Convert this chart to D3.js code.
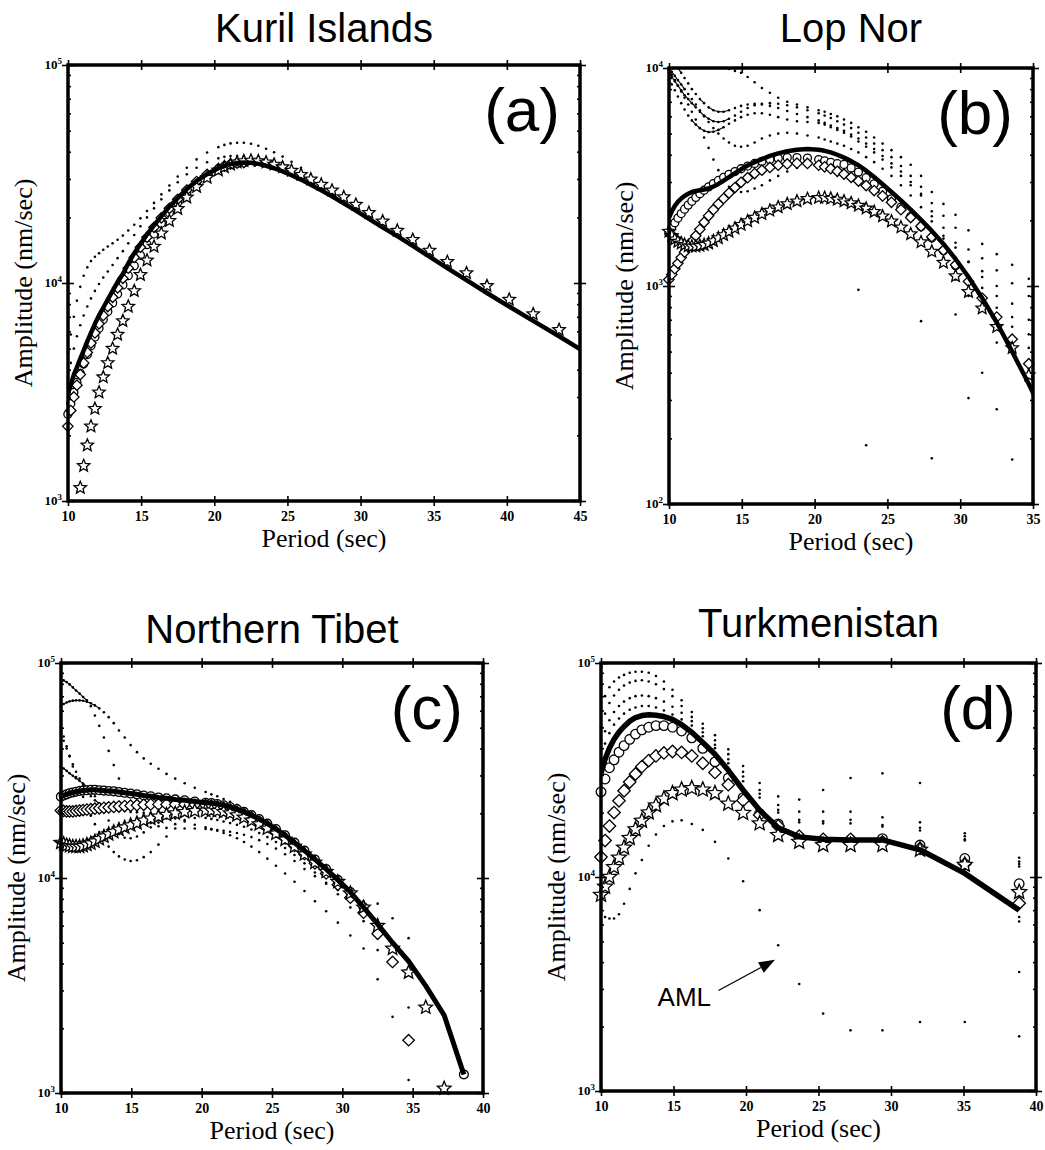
<!DOCTYPE html>
<html><head><meta charset="utf-8">
<script src="https://cdn.jsdelivr.net/npm/d3@7"></script>
<style>html,body{margin:0;padding:0;background:#fff}</style>
</head><body>
<svg id="chart" width="1045" height="1150"></svg>
<script>
// ---------------- DATA ----------------
// Sample periods (sec) used by panels a, b, c
const periodsABC = [9.99, 10.19, 10.40, 10.61, 10.84, 11.07, 11.32, 11.57, 11.84, 12.12,
  12.41, 12.72, 13.05, 13.39, 13.75, 14.12, 14.53, 14.95, 15.40, 15.88,
  16.38, 16.93, 17.50, 18.12, 18.79, 19.51, 20.28, 20.69, 21.11, 21.56,
  22.02, 22.51, 23.01, 23.54, 24.09, 24.67, 25.28, 25.93, 26.60, 27.31,
  28.05, 28.85, 29.68, 30.57, 31.51, 32.51, 33.57, 34.71, 35.93, 37.24,
  38.64, 40.16, 41.80, 43.57, 45.61];
// Sample periods (sec) used by panel d
const periodsD = [10.00, 10.28, 10.58, 10.90, 11.24, 11.59, 11.98, 12.38, 12.82, 13.29,
  13.79, 14.34, 14.93, 15.56, 16.26, 17.02, 17.86, 18.78, 19.80, 20.94,
  22.22, 23.67, 25.32, 27.21, 29.41, 32.00, 35.09, 38.84];

const xTicksA = [10, 15, 20, 25, 30, 35, 40, 45];
const xTicksB = [10, 15, 20, 25, 30, 35];
const xTicksC = [10, 15, 20, 25, 30, 35, 40];
const xTicksD = [10, 15, 20, 25, 30, 35, 40];
const decadesA = [1e3, 1e4, 1e5];
const decadesB = [1e2, 1e3, 1e4];
const decadesC = [1e3, 1e4, 1e5];
const decadesD = [1e3, 1e4, 1e5];

// ---- (a) Kuril Islands, amplitude nm/sec ----
const aLine = [3100, 3400, 3800, 4100, 4500, 4900, 5400, 5900, 6500, 7100,
  7700, 8400, 9200, 10100, 11000, 12300, 13700, 15100, 16700, 18400,
  20200, 22400, 24500, 27000, 29400, 31600, 33600, 34400, 35100, 35500,
  35700, 35600, 35200, 34500, 33600, 32500, 31200, 29800, 28200, 26600,
  25000, 23200, 21500, 19700, 18000, 16400, 14800, 13200, 11700, 10300,
  9000, 7800, 6700, 5700, 4700];
const aStars = [500, 600, 750, 900, 1150, 1450, 1800, 2200, 2650, 3150,
  3700, 4300, 5000, 5800, 6700, 7800, 9200, 10900, 12700, 14700,
  16900, 19300, 21900, 24700, 27600, 30400, 32900, 34000, 35000, 35800,
  36300, 36500, 36300, 35800, 35000, 34000, 32800, 31400, 29900, 28300,
  26600, 24800, 22900, 21000, 19200, 17400, 15800, 14100, 12500, 11100,
  9700, 8400, 7200, 6100];
const aDiamonds = [2200, 2600, 3000, 3400, 3800, 4300, 4800, 5300, 5900, 6500,
  7100, 7800, 8600, 9500, 10500, 11700, 13100, 14600, 16200, 18000,
  19900, 22000, 24200, 26700, 29200, 31500, 33500, 34400, 35100, 35500, 35700];
const aCircles = [2500, 2800, 3150, 3500, 3850, 4250, 4700, 5150, 5650, 6200,
  6800, 7400, 8100, 8900, 9800, 10800, 12000, 13400, 15000, 16800,
  18800, 21000, 23400, 26000, 28700, 31200, 33300, 34300, 35000, 35500, 35700];
const aDot1 = [4800, 5800, 7000, 8300, 9600, 10800, 11800, 12600, 13200, 13700,
  14200, 14700, 15200, 15800, 16500, 17400, 18500, 19800, 21400, 23300,
  25500, 28000, 30800, 33800, 36900, 39700, 42000, 43000, 43700, 44000,
  44000, 43500, 42600, 41300, 39800, 38000, 36000, 33800, 31300, 28800,
  26400, 24200];
const aDot2 = [3700, 4300, 5000, 5700, 6400, 7100, 7800, 8500, 9200, 9900,
  10600, 11300, 12100, 13000, 14000, 15200, 16600, 18200, 20000, 22000,
  24200, 26600, 29000, 31500, 33800, 35800, 37300, 37900, 38200, 38200,
  38000, 37600, 37000, 36200, 35200, 34000, 32600, 31000, 29300, 27500];

// ---- (b) Lop Nor ----
const bLine = [2050, 2200, 2330, 2430, 2520, 2590, 2650, 2700, 2730, 2750,
  2770, 2800, 2860, 2940, 3040, 3160, 3290, 3430, 3570, 3700,
  3820, 3950, 4060, 4150, 4220, 4250, 4220, 4170, 4100, 4000,
  3880, 3740, 3580, 3380, 3160, 2930, 2700, 2470, 2240, 2010,
  1790, 1560, 1330, 1100, 880, 680, 500, 355, 240];
const bCircles = [1750, 1850, 1950, 2050, 2150, 2250, 2350, 2450, 2550, 2650,
  2750, 2850, 2950, 3050, 3150, 3250, 3350, 3450, 3550, 3650,
  3730, 3800, 3850, 3880, 3880, 3860, 3800, 3750, 3690, 3640,
  3610, 3480, 3330, 3140, 2940, 2720, 2510, 2300, 2080, 1870,
  1660, 1450, 1240];
const bDiamonds = [1070, 1130, 1200, 1270, 1350, 1430, 1510, 1600, 1700, 1820,
  1960, 2100, 2240, 2380, 2520, 2670, 2830, 2990, 3140, 3280,
  3400, 3500, 3580, 3630, 3660, 3650, 3580, 3520, 3450, 3360,
  3260, 3150, 3030, 2890, 2740, 2590, 2420, 2240, 2060, 1880,
  1680, 1460, 1250, 1050, 880, 720, 570, 440];
const bStars = [1780, 1700, 1640, 1600, 1570, 1545, 1525, 1520, 1520, 1530,
  1545, 1570, 1610, 1660, 1715, 1775, 1840, 1910, 1985, 2060,
  2140, 2220, 2300, 2380, 2450, 2510, 2540, 2540, 2520, 2490,
  2450, 2400, 2340, 2270, 2190, 2090, 1980, 1860, 1730, 1590,
  1440, 1280, 1110, 940, 790, 650, 520, 390];
const bDot1 = [null, null, null, null, null, null, null, null, null, 11000,
  10800, 10500, 10300, 10100, 10000, 9900, 9700, 9500, 9100, 8600,
  8100, 7700, 7300, 7000, 6800, 6600, 6400, 6300, 6150, 6000,
  5800, 5600, 5350, 5100, 4800, 4500, 4200, 3900, 3600, 3200,
  2700, 2380, 2120, 1800, 1560, 1400, 1250, 1080];
const bDot2 = [9500, 9100, 8700, 8300, 7900, 7500, 7200, 6900, 6600, 6300,
  6050, 5850, 5700, 5650, 5700, 5850, 6050, 6300, 6550, 6750,
  6850, 6900, 6850, 6750, 6600, 6400, 6200, 6050, 5900, 5700,
  5500, 5300, 5050, 4800, 4500, 4200, 3900, 3550, 3200, 2850,
  2400, 2100, 1850, 1470, 1340, 1180, 1030, 900];
const bDot3 = [8800, 8400, 7900, 7400, 6900, 6450, 6050, 5750, 5500, 5300,
  5150, 5080, 5100, 5200, 5350, 5550, 5750, 5950, 6100, 6200,
  6200, 6100, 5950, 5800, 5700, 5650, 5600, 5500, 5350, 5200,
  5050, 4850, 4600, 4350, 4100, 3800, 3500, 3200, 2900, 2600,
  2200, 1850, 1580, 1290, 1170, 1000, 830, 700];
const bDot4 = [10000, 9600, 9200, 8800, 8400, 8000, 7600, 7200, 6800, 6400,
  6000, 5650, 5300, 5000, 4750, 4550, 4400, 4350, 4400, 4550,
  4750, 4900, 5000, 5050, 5000, 4900, 4800, 4700, 4600, 4500,
  4400, 4250, 4100, 3900, 3700, 3450, 3200, 2900, 2600, 2300,
  1980, 1650, 1280, 1100, 980, 795, 650, 520];
const bDot5 = [9800, 9300, 8800, 8300, 7800, 7300, 6800, 6300, 5800, 5300,
  4800, 4300, 3800, 3400, 3050, 2850, 2750, 2700, 2720, 2800,
  2900, 3050, 3200, 3350, 3480, 3550, 3580, 3570, 3540, 3480,
  3400, 3300, 3180, 3040, 2900, 2740, 2570, 2380, 2180, 1950,
  1650, 1350, 1070, 900, 830, 550, 550, 420];
const bDot6 = [null, null, null, 10000, 9500, 9000, 8500, 8000, 7600, 7200,
  6900, 6600, 6400, 6300, 6300, 6400, 6550, 6700, 6800, 6850,
  6800, 6700, 6550, 6350, 6150, 5950, 5750, 5600, 5450, 5300,
  5150, 4950, 4750, 4500, 4250, 3950, 3650, 3350, 3000, 2650,
  2090, 1700, 1500, 1290, 1100, 900, 720, 600];
const bScatterPeriods = [23.01, 23.54, 27.31, 28.05, 29.68, 30.57, 31.51, 32.51, 33.57];
const bScatterAmps = [960, 186, 690, 162, 740, 306, 400, 272, 160];

// ---- (c) Northern Tibet ----
const cLine = [23900, 24200, 24500, 24800, 25000, 25200, 25400, 25500, 25600, 25700,
  25700, 25600, 25500, 25400, 25300, 25100, 24900, 24700, 24500, 24200,
  24000, 23700, 23500, 23200, 23000, 22700, 22400, 22300, 22100, 21800,
  21400, 20900, 20300, 19600, 18800, 17900, 16900, 15800, 14600, 13400,
  12200, 11000, 9800, 8600, 7300, 6100, 5000, 4100, 3150, 2300, 1220];
const cCircles = [23900, 24200, 24500, 24800, 25000, 25200, 25400, 25500, 25600, 25700,
  25700, 25600, 25500, 25400, 25300, 25100, 24900, 24700, 24500, 24200,
  24000, 23700, 23500, 23200, 23000, 22700, 22400, 22300, 22100, 21800,
  21400, 20900, 20300, 19600, 18800, 17900, 16900, 15800, 14600, 13400,
  12200, 11000, 9800, 8600, 7300, null, null, null, null, null, 1220];
const cDiamonds = [20600, 20500, 20400, 20400, 20400, 20500, 20600, 20700, 20800, 20900,
  21000, 21100, 21200, 21300, 21400, 21500, 21600, 21700, 21800, 21900,
  22000, 22000, 22000, 22000, 22000, 21900, 21800, 21700, 21500, 21200,
  20800, 20300, 19800, 19100, 18300, 17400, 16400, 15300, 14100, 12900,
  11700, 10500, 9300, 8100, 6900, 5500, 4070, 1760];
const cStars = [14600, 14400, 14200, 14100, 14000, 14000, 14000, 14100, 14300, 14500,
  14800, 15200, 15600, 16000, 16400, 16800, 17200, 17600, 18000, 18500,
  18900, 19300, 19700, 20000, 20300, 20500, 20600, 20600, 20500, 20300,
  20000, 19600, 19100, 18500, 17800, 17000, 16100, 15100, 14000, 12900,
  11800, 10700, 9600, 8500, 7300, 6000, 4700, 3640, 2500, 1050];
const cDot1 = [83800, 83000, 81500, 79500, 77000, 74500, 72000, 69500, 67000, 63000,
  57000, 51000, 45000, 39000, 33500, 29000, 25500, 22500, 20500, 19000,
  18000, 17400, 17100, 17000, 17000, 17000, 16900, 16800, 16700, 16600,
  16400, 16200, 15900, 15500, 15000, 14400, 13700, 12900, 12000, 11000,
  10200, 9400, 8800, 8200, 7800, 7600, 6500, 5250];
const cDot2 = [63000, 64500, 65500, 66300, 66800, 67000, 67000, 66700, 66000, 65000,
  63500, 61500, 59000, 56000, 52500, 48500, 45000, 41500, 38500, 36000,
  34000, 32200, 30500, 29000, 27600, 26300, 25100, 24500, 24000, 23300,
  22600, 21900, 21100];
const cDot3 = [50000, 45500, 41000, 37000, 33000, 29500, 26500, 23800, 21500, 19500,
  17800, 16300, 15000, 14000, 13200, 12600, 12200, 12000, 12100, 12500,
  13200, 14300, 15600, 17800, 18600, 19000, 19000, 18800, 18600, 18300,
  18000, 17700, 17300, 16800, 16200, 15500, 14700, 13800, 12800, 11700,
  10600, 9500, 8400, 7300, 6300, 4620, 4620, 2500];
const cDot4 = [33000, 32300, 31500, 30700, 29900, 29100, 28300, 27500, 26600, 25500,
  24000, 22200, 20300, 18500, 17000, 16000, 15400, 15300, 15600, 16300,
  17200, 18100, 18900, 19500, 19900, 20100, 20100, 20000, 19900, 19700, 19400];
const cDot5 = [47000, 43500, 40000, 36800, 33800, 31200, 29000, 27000, 25300, 24000,
  23000, 22200, 21600, 21200, 20900, 20700, 20500, 20300, 20200, 20100,
  20000, 19800, 19400, 18900, 18300, 17700, 17200, 16900, 16600, 16200,
  15800, 15300, 14700, 14000, 13200, 12300, 11400, 10500, 9600, 8700,
  7800, 7000, 6200, 5400, 4700, 3380, 2260, 1150];

// ---- (d) Turkmenistan ----
const dLine = [30500, 35500, 40000, 44000, 47500, 50500, 53500, 55500, 56800, 57300,
  57000, 56200, 54500, 51500, 47500, 42500, 37500, 31500, 25500, 20500,
  17000, 15400, 15000, 14900, 14900, 13400, 10400, 7000];
const dCircles = [25000, 28700, 32400, 35300, 38300, 41100, 44000, 46500, 48700, 50100,
  51000, 51000, 50100, 48100, 44700, 39900, 34500, 29000, 23500, 19800,
  17700, 15300, 14700, 14900, 15100, 14100, 12200, 9300];
const dDiamonds = [12400, 14800, 17300, 20000, 22700, 25300, 27800, 30300, 32800, 35000,
  36800, 38000, 38600, 38200, 36800, 34000, 30800, 27000, 22800, 19500,
  17300, 15500, 15000, 15000, 14600, 13600, 11500, 7540];
const dStars = [8250, 9000, 10000, 11100, 12300, 13700, 15200, 16700, 18300, 20000,
  21600, 23200, 24600, 25600, 26000, 25600, 24600, 22000, 19900, 17800,
  15700, 14600, 14100, 14100, 14100, 13400, 11400, 8500];
const dDot1 = [62000, 70000, 77000, 82000, 85500, 88000, 90000, 91000, 91000, 90000,
  87000, 82000, 75000, 67000, 59000, 52000, 46000, 39500, 33000, 27500,
  23800, 23000, 25500, 29000, 30500, 27500, 16000, 12300];
const dDot2 = [50000, 58000, 65000, 70500, 75000, 78500, 81000, 82500, 83000, 82000,
  79500, 75500, 70000, 63000, 56000, 49500, 43500, 37500, 31000, 25500,
  21700, 20200, 20200, 20200, 19000, 18000, 15500, 11800];
const dDot3 = [42000, 48000, 54000, 59000, 63000, 66000, 68500, 70000, 70500, 70000,
  68500, 66000, 62500, 58500, 53500, 47500, 41500, 35500, 29500, 24500,
  20600, 18500, 18200, 18500, 17500, 17000, 15000, 11500];
const dDot4 = [36000, 42000, 47000, 51500, 55000, 58000, 60500, 62000, 63000, 63000,
  62000, 60000, 57500, 54500, 51000, 45500, 40000, 34000, 28000, 23500,
  20000, 18000, 17800, 17800, 17200, 16500, 14800, 11200];
const dDot5 = [6700, 6500, 6400, 6400, 6700, 7500, 8800, 10400, 12000, 14000,
  15800, 17300, 18200, 18400, 17700, 16600, 14600, 12200, 9550, 7000,
  4800, 3160, 2300, 1920, 1920, 2100, 2100, 1800];
const dScatterPeriods = [38.84, 38.84, 38.84];
const dScatterAmps = [6500, 6200, 3600];
// AML annotation (period, amplitude)
const amlLabel = ["AML", 13.9, 2500];
const amlArrowFrom = [18.1, 2950];
const amlArrowTo = [22.0, 4100];

// ---------------- DRAWING ----------------
const SANS = "'Liberation Sans', Arial, Helvetica, sans-serif";
const SERIF = "'Liberation Serif', 'Times New Roman', Times, serif";
const svg = d3.select('#chart');
svg.append('rect').attr('width', 1045).attr('height', 1150).attr('fill', '#fff');

const panels = [
  { id: 'a', title: 'Kuril Islands', titleY: 42, tag: '(a)', xLabelDy: 46,
    box: { x0: 68, x1: 580, y0: 65, y1: 501 }, xDomain: [10, 45], yDomain: [1e3, 1e5],
    xTicks: xTicksA, decades: decadesA, periods: periodsABC, connect: 0,
    line: aLine, lineWidth: 4.5, ms: 1.0,
    dots: [aDot1, aDot2], circles: [aCircles], diamonds: [aDiamonds], stars: [aStars] },
  { id: 'b', title: 'Lop Nor', titleY: 42, tag: '(b)', xLabelDy: 46,
    box: { x0: 669, x1: 1033, y0: 68, y1: 504 }, xDomain: [10, 35], yDomain: [1e2, 1e4],
    xTicks: xTicksB, decades: decadesB, periods: periodsABC, connect: 6,
    line: bLine, lineWidth: 4.5, ms: 1.0,
    dots: [bDot1, bDot2, bDot3, bDot4, bDot5, bDot6], scatter: [bScatterPeriods, bScatterAmps],
    circles: [bCircles], diamonds: [bDiamonds], stars: [bStars] },
  { id: 'c', title: 'Northern Tibet', titleY: 643, tag: '(c)', xLabelDy: 46,
    box: { x0: 61, x1: 483, y0: 663, y1: 1093 }, xDomain: [10, 40], yDomain: [1e3, 1e5],
    xTicks: xTicksC, decades: decadesC, periods: periodsABC, connect: 5.5,
    line: cLine, lineWidth: 5, ms: 1.1,
    dots: [cDot1, cDot2, cDot3, cDot4, cDot5],
    circles: [cCircles], diamonds: [cDiamonds], stars: [cStars] },
  { id: 'd', title: 'Turkmenistan', titleY: 637, tag: '(d)', xLabelDy: 46,
    box: { x0: 601, x1: 1036, y0: 663, y1: 1091 }, xDomain: [10, 40], yDomain: [1e3, 1e5],
    xTicks: xTicksD, decades: decadesD, periods: periodsD, connect: 0,
    line: dLine, lineWidth: 5.5, ms: 1.2,
    dots: [dDot1, dDot2, dDot3, dDot4, dDot5], scatter: [dScatterPeriods, dScatterAmps],
    circles: [dCircles], diamonds: [dDiamonds], stars: [dStars], aml: true }
];

function starPath(R) {
  let s = '';
  for (let i = 0; i < 10; i++) {
    const r = i % 2 ? R * 0.45 : R;
    const a = -Math.PI / 2 + i * Math.PI / 5;
    s += (i ? 'L' : 'M') + (r * Math.cos(a)).toFixed(2) + ',' + (r * Math.sin(a)).toFixed(2);
  }
  return s + 'Z';
}
function diamondPath(h) { return `M0,${-h}L${h},0L0,${h}L${-h},0Z`; }
function circlePath(r) { return `M${r},0A${r},${r} 0 1,1 ${-r},0A${r},${r} 0 1,1 ${r},0Z`; }

function drawPanel(c) {
  const { x0, x1, y0, y1 } = c.box;
  const x = d3.scaleLinear().domain(c.xDomain).range([x0, x1]);
  const y = d3.scaleLog().domain(c.yDomain).range([y1, y0]);
  const g = svg.append('g');
  const clipId = 'clip-' + c.id;
  svg.append('defs').append('clipPath').attr('id', clipId)
    .append('rect').attr('x', x0).attr('y', y0).attr('width', x1 - x0).attr('height', y1 - y0);
  const P = c.periods;
  const toPts = arr => arr.map((v, i) => ({ p: P[i], v })).filter(d => d.v != null);
  const visible = d => d.p >= c.xDomain[0] - 0.05 && d.p <= c.xDomain[1] + 0.01 &&
    d.v >= c.yDomain[0] && d.v <= c.yDomain[1];
  const plot = g.append('g');

  // dotted series
  c.dots.forEach(arr => {
    const pts = arr.map((v, i) => ({ p: P[i], v }));
    if (c.connect > 0) {
      const segs = [];
      for (let i = 1; i < pts.length; i++) {
        const a = pts[i - 1], b = pts[i];
        if (a.v == null || b.v == null) continue;
        const dx = x(b.p) - x(a.p), dy = y(b.v) - y(a.v);
        if (Math.hypot(dx, dy) <= c.connect) segs.push([a, b]);
      }
      plot.append('g').attr('clip-path', `url(#${clipId})`)
        .selectAll('line').data(segs).join('line')
        .attr('x1', s => x(s[0].p)).attr('y1', s => y(s[0].v))
        .attr('x2', s => x(s[1].p)).attr('y2', s => y(s[1].v))
        .attr('stroke', '#000').attr('stroke-width', 1.1);
    }
    plot.append('g').selectAll('circle')
      .data(pts.filter(d => d.v != null && visible(d))).join('circle')
      .attr('cx', d => x(d.p)).attr('cy', d => y(d.v)).attr('r', 1.3).attr('fill', '#000');
  });
  if (c.scatter) {
    const pts = c.scatter[0].map((p, i) => ({ p, v: c.scatter[1][i] })).filter(visible);
    plot.append('g').selectAll('circle').data(pts).join('circle')
      .attr('cx', d => x(d.p)).attr('cy', d => y(d.v)).attr('r', 1.3).attr('fill', '#000');
  }

  const drawMarkers = (arr, path) => {
    plot.append('g').selectAll('path').data(toPts(arr).filter(visible)).join('path')
      .attr('d', path).attr('transform', d => `translate(${x(d.p)},${y(d.v)})`)
      .attr('fill', '#fff').attr('stroke', '#000').attr('stroke-width', 1.3);
  };
  c.circles.forEach(a => drawMarkers(a, circlePath(4 * c.ms)));
  c.diamonds.forEach(a => drawMarkers(a, diamondPath(5.2 * c.ms)));
  c.stars.forEach(a => drawMarkers(a, starPath(6.5 * c.ms)));

  // thick line
  plot.append('path').datum(toPts(c.line)).attr('clip-path', `url(#${clipId})`)
    .attr('d', d3.line().x(d => x(d.p)).y(d => y(d.v)))
    .attr('fill', 'none').attr('stroke', '#000').attr('stroke-width', c.lineWidth)
    .attr('stroke-linejoin', 'round');

  // axes
  const styleAxis = sel => {
    sel.select('.domain').remove();
    sel.selectAll('line').attr('stroke', '#000').attr('stroke-width', 1.6);
    sel.attr('font-family', SERIF).attr('font-size', 14).attr('font-weight', 'bold');
    sel.selectAll('text').attr('fill', '#000');
  };
  g.append('g').attr('transform', `translate(0,${y1})`)
    .call(d3.axisBottom(x).tickValues(c.xTicks).tickSize(5).tickPadding(5).tickFormat(d3.format('d')))
    .call(styleAxis);
  g.append('g').attr('transform', `translate(0,${y1})`)
    .call(d3.axisBottom(x).tickValues(c.xTicks).tickSize(-5).tickFormat('')).call(styleAxis);
  g.append('g').attr('transform', `translate(0,${y0})`)
    .call(d3.axisTop(x).tickValues(c.xTicks).tickSize(5).tickFormat('')).call(styleAxis);
  g.append('g').attr('transform', `translate(0,${y0})`)
    .call(d3.axisTop(x).tickValues(c.xTicks).tickSize(-5).tickFormat('')).call(styleAxis);

  const minors = [];
  c.decades.slice(0, -1).forEach(d => { for (let m = 2; m <= 9; m++) minors.push(d * m); });
  [[d3.axisLeft, x0], [d3.axisRight, x1]].forEach(([ax, pos]) => {
    g.append('g').attr('transform', `translate(${pos},0)`)
      .call(ax(y).tickValues(c.decades).tickSize(6).tickFormat('')).call(styleAxis);
    g.append('g').attr('transform', `translate(${pos},0)`)
      .call(ax(y).tickValues(c.decades).tickSize(-6).tickFormat('')).call(styleAxis);
    g.append('g').attr('transform', `translate(${pos},0)`)
      .call(ax(y).tickValues(minors).tickSize(-3).tickFormat('')).call(styleAxis);
  });
  c.decades.forEach(v => {
    const t = g.append('text').attr('x', x0 - 6).attr('y', y(v) + 4)
      .attr('text-anchor', 'end').attr('font-family', SERIF).attr('font-size', 13)
      .attr('font-weight', 'bold');
    t.append('tspan').text('10');
    t.append('tspan').attr('dy', -5).attr('font-size', 9).text(String(Math.round(Math.log10(v))));
  });

  // frame
  g.append('rect').attr('x', x0).attr('y', y0).attr('width', x1 - x0).attr('height', y1 - y0)
    .attr('fill', 'none').attr('stroke', '#000').attr('stroke-width', 3.5);

  // labels
  g.append('text').attr('x', (x0 + x1) / 2).attr('y', y1 + c.xLabelDy).attr('text-anchor', 'middle')
    .attr('font-family', SERIF).attr('font-size', 26).text('Period (sec)');
  g.append('text').attr('transform', `translate(${x0 - 45},${(y0 + y1) / 2}) rotate(-90)`)
    .attr('dy', '0.35em').attr('text-anchor', 'middle')
    .attr('font-family', SERIF).attr('font-size', 26).text('Amplitude (nm/sec)');
  g.append('text').attr('x', (x0 + x1) / 2).attr('y', c.titleY).attr('text-anchor', 'middle')
    .attr('font-family', SANS).attr('font-size', 40).text(c.title);
  g.append('text').attr('x', x1 - 20).attr('y', y0 + 66).attr('text-anchor', 'end')
    .attr('font-family', SANS).attr('font-size', 62).text(c.tag);

  if (c.aml) {
    const fx = x(amlArrowFrom[0]), fy = y(amlArrowFrom[1]);
    const tx = x(amlArrowTo[0]), ty = y(amlArrowTo[1]);
    const ang = Math.atan2(ty - fy, tx - fx);
    const L = 16, W = 6;
    const bx = tx - L * Math.cos(ang), by = ty - L * Math.sin(ang);
    g.append('line').attr('x1', fx).attr('y1', fy).attr('x2', bx).attr('y2', by)
      .attr('stroke', '#000').attr('stroke-width', 1.3);
    g.append('path').attr('d', `M${tx},${ty}L${bx - W * Math.sin(ang)},${by + W * Math.cos(ang)}L${bx + W * Math.sin(ang)},${by - W * Math.cos(ang)}Z`)
      .attr('fill', '#000');
    g.append('text').attr('x', x(amlLabel[1])).attr('y', y(amlLabel[2]))
      .attr('font-family', SANS).attr('font-size', 26).text(amlLabel[0]);
  }
}
panels.forEach(drawPanel);
</script>
</body></html>
